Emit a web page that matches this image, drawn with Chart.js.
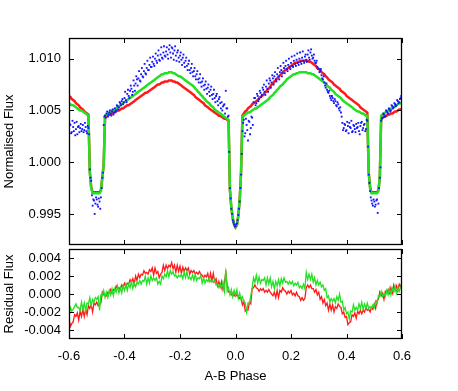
<!DOCTYPE html>
<html>
<head>
<meta charset="utf-8">
<script src="https://cdn.jsdelivr.net/npm/chart.js@4.4.1/dist/chart.umd.min.js"></script>
<style>
  html, body { margin: 0; padding: 0; background: #fff; }
  #wrap { position: relative; width: 458px; height: 391px; }
  canvas { position: absolute; left: 0; }
  #fluxChart { top: 0; }
  #residChart { top: 247px; }
</style>
</head>
<body>
<div id="wrap">
  <canvas id="fluxChart" width="458" height="247"></canvas>
  <canvas id="residChart" width="458" height="144"></canvas>
</div>
<script>
// phase grid: -0.6 .. 0.6 in steps of 0.005 (241 samples)
var phase = [];
for (var i = 0; i <= 240; i++) phase.push(Math.round((-0.6 + i * 0.005) * 10000) / 10000);
// second set of observations, half a step later (240 samples)
var phase2 = [];
for (var j = 0; j < 240; j++) phase2.push(Math.round((-0.5975 + j * 0.005) * 10000) / 10000);

var xTicks = [-0.6, -0.4, -0.2, 0.0, 0.2, 0.4, 0.6];
var fluxTicks = [0.995, 1.000, 1.005, 1.010];
var residTicks = [-0.004, -0.002, 0.000, 0.002, 0.004];

// observed light curve (blue points), one row = 0.05 in phase
var obsFlux = [
  1.0031, 1.0036, 1.0029, 1.0034, 1.0038, 1.0032, 1.0027, 1.0035, 1.0033, 1.0030,
  1.0036, 1.0031, 1.0034, 1.0028, 1.0033, 0.9993, 0.9982, 0.9958, 0.9963, 0.9960,
  0.9964, 0.9957, 0.9962, 0.9966, 0.9985, 1.0036, 1.0045, 1.0047, 1.0044, 1.0048,
  1.0047, 1.0049, 1.0046, 1.0052, 1.0050, 1.0054, 1.0053, 1.0057, 1.0059, 1.0056,
  1.0062, 1.0060, 1.0066, 1.0064, 1.0069, 1.0071, 1.0068, 1.0074, 1.0076, 1.0080,
  1.0081, 1.0079, 1.0085, 1.0083, 1.0088, 1.0086, 1.0091, 1.0089, 1.0094, 1.0092,
  1.0097, 1.0095, 1.0100, 1.0098, 1.0103, 1.0099, 1.0104, 1.0101, 1.0106, 1.0103,
  1.0107, 1.0104, 1.0109, 1.0106, 1.0111, 1.0105, 1.0108, 1.0103, 1.0106, 1.0101,
  1.0103, 1.0099, 1.0101, 1.0096, 1.0098, 1.0093, 1.0095, 1.0089, 1.0091, 1.0087,
  1.0088, 1.0083, 1.0085, 1.0080, 1.0081, 1.0077, 1.0078, 1.0074, 1.0075, 1.0071,
  1.0072, 1.0068, 1.0070, 1.0065, 1.0066, 1.0062, 1.0064, 1.0059, 1.0061, 1.0057,
  1.0058, 1.0054, 1.0056, 1.0069, 1.0052, 1.0045, 0.9975, 0.9955, 0.9944, 0.9940,
  0.9938, 0.9941, 0.9949, 0.9962, 0.9988, 1.0030, 1.0041, 1.0028, 1.0036, 1.0021,
  1.0039, 1.0033, 1.0043, 1.0058, 1.0062, 1.0057, 1.0064, 1.0061, 1.0067, 1.0065,
  1.0070, 1.0068, 1.0073, 1.0071, 1.0076, 1.0079, 1.0077, 1.0081, 1.0083, 1.0080,
  1.0085, 1.0083, 1.0087, 1.0089, 1.0086, 1.0091, 1.0093, 1.0090, 1.0094, 1.0092,
  1.0096, 1.0093, 1.0098, 1.0095, 1.0099, 1.0096, 1.0100, 1.0097, 1.0101, 1.0098,
  1.0102, 1.0099, 1.0104, 1.0101, 1.0106, 1.0103, 1.0101, 1.0098, 1.0096, 1.0092,
  1.0090, 1.0088, 1.0084, 1.0080, 1.0077, 1.0072, 1.0070, 1.0067, 1.0064, 1.0060,
  1.0062, 1.0057, 1.0059, 1.0054, 1.0056, 1.0050, 1.0048, 1.0038, 1.0033, 1.0036,
  1.0031, 1.0035, 1.0038, 1.0033, 1.0029, 1.0036, 1.0032, 1.0037, 1.0034, 1.0030,
  1.0035, 1.0039, 1.0033, 1.0037, 1.0032, 1.0040, 0.9988, 0.9972, 0.9963, 0.9958,
  0.9962, 0.9959, 0.9964, 0.9960, 0.9985, 1.0040, 1.0043, 1.0046, 1.0044, 1.0049,
  1.0047, 1.0051, 1.0050, 1.0054, 1.0053, 1.0056, 1.0055, 1.0059, 1.0058, 1.0062,
  1.0063
];

// observed light curve, in-between samples (phase2)
var obsFlux2 = [
  1.0037, 1.0028, 1.0040, 1.0030, 1.0026, 1.0039, 1.0034, 1.0029, 1.0037, 1.0032,
  1.0029, 1.0038, 1.0030, 1.0035, 1.0027, 0.9985, 0.9968, 0.9964, 0.9950, 0.9966,
  0.9959, 0.9965, 0.9955, 0.9975, 0.9990, 1.0044, 1.0043, 1.0049, 1.0046, 1.0050,
  1.0045, 1.0051, 1.0048, 1.0049, 1.0055, 1.0051, 1.0058, 1.0055, 1.0061, 1.0058,
  1.0068, 1.0058, 1.0070, 1.0062, 1.0074, 1.0065, 1.0079, 1.0069, 1.0083, 1.0074,
  1.0088, 1.0078, 1.0091, 1.0082, 1.0095, 1.0085, 1.0098, 1.0089, 1.0101, 1.0092,
  1.0102, 1.0093, 1.0105, 1.0096, 1.0108, 1.0098, 1.0111, 1.0100, 1.0112, 1.0102,
  1.0111, 1.0100, 1.0113, 1.0101, 1.0110, 1.0099, 1.0112, 1.0098, 1.0108, 1.0097,
  1.0106, 1.0094, 1.0104, 1.0092, 1.0101, 1.0089, 1.0098, 1.0086, 1.0095, 1.0083,
  1.0091, 1.0080, 1.0088, 1.0077, 1.0085, 1.0073, 1.0081, 1.0070, 1.0078, 1.0066,
  1.0075, 1.0064, 1.0073, 1.0061, 1.0070, 1.0058, 1.0066, 1.0055, 1.0063, 1.0052,
  1.0050, 1.0055, 1.0047, 1.0052, 1.0044, 1.0010, 0.9965, 0.9950, 0.9942, 0.9938,
  0.9940, 0.9944, 0.9955, 0.9975, 1.0008, 1.0038, 1.0025, 1.0042, 1.0031, 1.0040,
  1.0027, 1.0044, 1.0036, 1.0062, 1.0055, 1.0066, 1.0059, 1.0069, 1.0063, 1.0072,
  1.0075, 1.0065, 1.0079, 1.0068, 1.0081, 1.0072, 1.0084, 1.0075, 1.0087, 1.0078,
  1.0091, 1.0080, 1.0093, 1.0083, 1.0096, 1.0086, 1.0098, 1.0088, 1.0100, 1.0090,
  1.0102, 1.0092, 1.0103, 1.0093, 1.0105, 1.0094, 1.0106, 1.0095, 1.0107, 1.0096,
  1.0104, 1.0097, 1.0108, 1.0099, 1.0109, 1.0100, 1.0104, 1.0096, 1.0098, 1.0090,
  1.0087, 1.0090, 1.0081, 1.0083, 1.0074, 1.0076, 1.0068, 1.0069, 1.0062, 1.0064,
  1.0059, 1.0061, 1.0055, 1.0058, 1.0052, 1.0053, 1.0044, 1.0031, 1.0037, 1.0030,
  1.0039, 1.0028, 1.0034, 1.0040, 1.0030, 1.0035, 1.0029, 1.0033, 1.0038, 1.0027,
  1.0038, 1.0031, 1.0036, 1.0030, 1.0041, 1.0015, 0.9980, 0.9966, 0.9960, 0.9964,
  0.9957, 0.9963, 0.9951, 0.9975, 0.9995, 1.0042, 1.0047, 1.0044, 1.0050, 1.0048,
  1.0052, 1.0049, 1.0055, 1.0052, 1.0057, 1.0054, 1.0060, 1.0057, 1.0061, 1.0064
];

// red model
var redModel = [
  1.0064, 1.0063, 1.0061, 1.0060, 1.0059, 1.0057, 1.0056, 1.0055, 1.0053, 1.0052,
  1.0051, 1.0049, 1.0048, 1.0047, 1.0046, 0.9991, 0.9976, 0.9971, 0.9971, 0.9971,
  0.9971, 0.9971, 0.9971, 0.9973, 0.9985, 0.9998, 1.0044, 1.0045, 1.0045, 1.0046,
  1.0046, 1.0047, 1.0048, 1.0048, 1.0049, 1.0050, 1.0050, 1.0051, 1.0052, 1.0052,
  1.0053, 1.0054, 1.0055, 1.0055, 1.0056, 1.0057, 1.0058, 1.0059, 1.0060, 1.0061,
  1.0062, 1.0063, 1.0064, 1.0065, 1.0066, 1.0067, 1.0067, 1.0068, 1.0069, 1.0070,
  1.0071, 1.0072, 1.0073, 1.0074, 1.0075, 1.0075, 1.0076, 1.0077, 1.0077, 1.0078,
  1.0078, 1.0078, 1.0079, 1.0079, 1.0079, 1.0078, 1.0078, 1.0077, 1.0077, 1.0076,
  1.0075, 1.0074, 1.0073, 1.0072, 1.0071, 1.0070, 1.0069, 1.0068, 1.0067, 1.0066,
  1.0065, 1.0063, 1.0062, 1.0061, 1.0060, 1.0059, 1.0058, 1.0057, 1.0055, 1.0054,
  1.0053, 1.0052, 1.0051, 1.0050, 1.0049, 1.0048, 1.0047, 1.0046, 1.0045, 1.0045,
  1.0044, 1.0043, 1.0042, 1.0042, 1.0041, 1.0040, 0.9973, 0.9956, 0.9946, 0.9940,
  0.9937, 0.9939, 0.9948, 0.9963, 0.9990, 1.0045, 1.0047, 1.0049, 1.0050, 1.0052,
  1.0053, 1.0054, 1.0056, 1.0057, 1.0058, 1.0059, 1.0060, 1.0062, 1.0063, 1.0064,
  1.0065, 1.0067, 1.0068, 1.0070, 1.0071, 1.0073, 1.0075, 1.0076, 1.0078, 1.0079,
  1.0081, 1.0082, 1.0084, 1.0085, 1.0087, 1.0088, 1.0089, 1.0090, 1.0091, 1.0092,
  1.0093, 1.0094, 1.0095, 1.0096, 1.0096, 1.0097, 1.0097, 1.0098, 1.0098, 1.0098,
  1.0098, 1.0098, 1.0098, 1.0097, 1.0097, 1.0096, 1.0095, 1.0094, 1.0093, 1.0091,
  1.0090, 1.0089, 1.0087, 1.0086, 1.0085, 1.0083, 1.0082, 1.0080, 1.0079, 1.0078,
  1.0077, 1.0075, 1.0074, 1.0073, 1.0072, 1.0071, 1.0069, 1.0068, 1.0067, 1.0066,
  1.0064, 1.0063, 1.0062, 1.0061, 1.0060, 1.0059, 1.0058, 1.0057, 1.0056, 1.0055,
  1.0053, 1.0052, 1.0051, 1.0050, 1.0049, 1.0048, 0.9990, 0.9976, 0.9971, 0.9971,
  0.9971, 0.9971, 0.9971, 0.9973, 0.9985, 1.0043, 1.0043, 1.0044, 1.0045, 1.0045,
  1.0046, 1.0046, 1.0047, 1.0047, 1.0048, 1.0049, 1.0049, 1.0050, 1.0051, 1.0051,
  1.0052
];

// green model
var greenModel = [
  1.0057, 1.0056, 1.0055, 1.0055, 1.0054, 1.0053, 1.0052, 1.0051, 1.0050, 1.0050,
  1.0049, 1.0048, 1.0047, 1.0046, 1.0045, 0.9990, 0.9975, 0.9970, 0.9970, 0.9970,
  0.9970, 0.9970, 0.9970, 0.9972, 0.9985, 0.9998, 1.0045, 1.0046, 1.0047, 1.0048,
  1.0049, 1.0050, 1.0050, 1.0051, 1.0052, 1.0053, 1.0054, 1.0055, 1.0056, 1.0057,
  1.0058, 1.0059, 1.0060, 1.0061, 1.0062, 1.0063, 1.0064, 1.0065, 1.0066, 1.0067,
  1.0068, 1.0069, 1.0070, 1.0071, 1.0072, 1.0073, 1.0074, 1.0075, 1.0076, 1.0077,
  1.0078, 1.0079, 1.0080, 1.0081, 1.0082, 1.0083, 1.0084, 1.0085, 1.0085, 1.0086,
  1.0086, 1.0086, 1.0087, 1.0087, 1.0087, 1.0086, 1.0086, 1.0085, 1.0084, 1.0083,
  1.0083, 1.0082, 1.0081, 1.0080, 1.0079, 1.0078, 1.0077, 1.0076, 1.0075, 1.0074,
  1.0073, 1.0071, 1.0070, 1.0068, 1.0067, 1.0065, 1.0064, 1.0062, 1.0061, 1.0059,
  1.0058, 1.0057, 1.0055, 1.0054, 1.0053, 1.0051, 1.0050, 1.0049, 1.0048, 1.0047,
  1.0046, 1.0045, 1.0044, 1.0043, 1.0042, 1.0041, 0.9973, 0.9956, 0.9946, 0.9940,
  0.9937, 0.9939, 0.9948, 0.9963, 0.9990, 1.0044, 1.0045, 1.0046, 1.0047, 1.0048,
  1.0048, 1.0049, 1.0050, 1.0051, 1.0052, 1.0052, 1.0053, 1.0054, 1.0055, 1.0056,
  1.0057, 1.0058, 1.0059, 1.0060, 1.0061, 1.0063, 1.0064, 1.0065, 1.0067, 1.0068,
  1.0070, 1.0071, 1.0073, 1.0074, 1.0075, 1.0077, 1.0078, 1.0080, 1.0081, 1.0082,
  1.0083, 1.0084, 1.0085, 1.0085, 1.0086, 1.0086, 1.0087, 1.0087, 1.0087, 1.0087,
  1.0087, 1.0087, 1.0086, 1.0086, 1.0086, 1.0085, 1.0085, 1.0084, 1.0083, 1.0082,
  1.0081, 1.0080, 1.0079, 1.0078, 1.0077, 1.0076, 1.0074, 1.0073, 1.0072, 1.0070,
  1.0069, 1.0068, 1.0066, 1.0065, 1.0064, 1.0063, 1.0062, 1.0060, 1.0059, 1.0058,
  1.0057, 1.0056, 1.0055, 1.0054, 1.0053, 1.0052, 1.0051, 1.0050, 1.0049, 1.0049,
  1.0048, 1.0047, 1.0047, 1.0046, 1.0045, 1.0045, 0.9990, 0.9975, 0.9970, 0.9970,
  0.9970, 0.9970, 0.9970, 0.9972, 0.9985, 1.0045, 1.0046, 1.0047, 1.0048, 1.0049,
  1.0050, 1.0051, 1.0052, 1.0052, 1.0053, 1.0054, 1.0055, 1.0056, 1.0057, 1.0057,
  1.0058
];

// residuals against the red model
var redResid = [
  -27e-4, -36e-4, -33e-4, -31e-4, -23e-4, -25e-4, -21e-4, -29e-4, -19e-4, -25e-4,
  -17e-4, -25e-4, -17e-4, -23e-4, -13e-4, -16e-4, -12e-4, -20e-4, -10e-4, -12e-4,
  -9e-4, -13e-4, -12e-4, -10e-4, 2e-4, -1e-4, 0e-4, -2e-4, 2e-4, 1e-4,
  5e-4, 1e-4, 5e-4, 4e-4, 9e-4, 6e-4, 7e-4, 5e-4, 10e-4, 8e-4,
  12e-4, 8e-4, 12e-4, 11e-4, 16e-4, 13e-4, 17e-4, 11e-4, 20e-4, 15e-4,
  22e-4, 18e-4, 22e-4, 21e-4, 26e-4, 23e-4, 24e-4, 22e-4, 27e-4, 25e-4,
  29e-4, 21e-4, 29e-4, 23e-4, 25e-4, 18e-4, 22e-4, 24e-4, 32e-4, 26e-4,
  32e-4, 28e-4, 32e-4, 30e-4, 35e-4, 28e-4, 32e-4, 24e-4, 32e-4, 25e-4,
  31e-4, 23e-4, 30e-4, 25e-4, 29e-4, 26e-4, 29e-4, 22e-4, 26e-4, 24e-4,
  26e-4, 22e-4, 24e-4, 22e-4, 25e-4, 22e-4, 21e-4, 18e-4, 21e-4, 19e-4,
  23e-4, 15e-4, 23e-4, 15e-4, 23e-4, 14e-4, 17e-4, 9e-4, 14e-4, 8e-4,
  14e-4, 5e-4, 12e-4, 24e-4, 9e-4, 2e-4, 2e-4, -1e-4, 1e-4, -2e-4,
  1e-4, -2e-4, -2e-4, -5e-4, -4e-4, -12e-4, -8e-4, -19e-4, -17e-4, -18e-4,
  -9e-4, -11e-4, 6e-4, 7e-4, 10e-4, 7e-4, 6e-4, 3e-4, 6e-4, 4e-4,
  6e-4, 2e-4, 4e-4, 2e-4, 5e-4, 2e-4, 0e-4, -2e-4, 2e-4, -4e-4,
  4e-4, -4e-4, 4e-4, 2e-4, 7e-4, 4e-4, 3e-4, 0e-4, 3e-4, 1e-4,
  4e-4, -1e-4, 1e-4, -2e-4, 2e-4, -2e-4, -3e-4, -7e-4, -4e-4, -7e-4,
  -5e-4, 7e-4, 10e-4, 7e-4, 10e-4, 6e-4, 6e-4, 2e-4, 5e-4, -1e-4,
  2e-4, -6e-4, -3e-4, -10e-4, -6e-4, -13e-4, -10e-4, -18e-4, -11e-4, -18e-4,
  -12e-4, -20e-4, -14e-4, -16e-4, -11e-4, -14e-4, -15e-4, -22e-4, -20e-4, -26e-4,
  -25e-4, -34e-4, -32e-4, -31e-4, -23e-4, -25e-4, -21e-4, -27e-4, -19e-4, -22e-4,
  -18e-4, -22e-4, -18e-4, -20e-4, -15e-4, -18e-4, -17e-4, -20e-4, -15e-4, -17e-4,
  -11e-4, -16e-4, -7e-4, -6e-4, 2e-4, -2e-4, 1e-4, -6e-4, 3e-4, 1e-4,
  5e-4, 1e-4, 7e-4, 1e-4, 10e-4, 4e-4, 9e-4, 3e-4, 11e-4, 8e-4,
  13e-4
];

// residuals against the green model
var greenResid = [
  -25e-4, -15e-4, -19e-4, -17e-4, -14e-4, -11e-4, -15e-4, -15e-4, -18e-4, -9e-4,
  -17e-4, -10e-4, -19e-4, -10e-4, -11e-4, -4e-4, -13e-4, -6e-4, -9e-4, -4e-4,
  -6e-4, -3e-4, -18e-4, -1e-4, -2e-4, 4e-4, -4e-4, 2e-4, -4e-4, 4e-4,
  -1e-4, 6e-4, -2e-4, 6e-4, 2e-4, 9e-4, 1e-4, 7e-4, 1e-4, 9e-4,
  4e-4, 11e-4, 4e-4, 11e-4, 7e-4, 14e-4, 6e-4, 12e-4, 8e-4, 13e-4,
  11e-4, 15e-4, 11e-4, 15e-4, 14e-4, 20e-4, 11e-4, 18e-4, 12e-4, 20e-4,
  15e-4, 18e-4, 15e-4, 18e-4, 11e-4, 14e-4, 11e-4, 20e-4, 17e-4, 22e-4,
  19e-4, 26e-4, 19e-4, 26e-4, 22e-4, 25e-4, 20e-4, 21e-4, 18e-4, 21e-4,
  19e-4, 22e-4, 17e-4, 24e-4, 18e-4, 25e-4, 17e-4, 19e-4, 16e-4, 21e-4,
  15e-4, 22e-4, 15e-4, 18e-4, 17e-4, 21e-4, 12e-4, 18e-4, 12e-4, 16e-4,
  14e-4, 18e-4, 14e-4, 15e-4, 13e-4, 16e-4, 10e-4, 11e-4, 7e-4, 11e-4,
  6e-4, 13e-4, 3e-4, 27e-4, 3e-4, 7e-4, -1e-4, 5e-4, -3e-4, 4e-4,
  -2e-4, 5e-4, -5e-4, 1e-4, -6e-4, -3e-4, -9e-4, -10e-4, -20e-4, -10e-4,
  -11e-4, -2e-4, 7e-4, 18e-4, 13e-4, 21e-4, 12e-4, 19e-4, 12e-4, 16e-4,
  15e-4, 18e-4, 10e-4, 18e-4, 11e-4, 18e-4, 8e-4, 14e-4, 6e-4, 14e-4,
  9e-4, 16e-4, 9e-4, 17e-4, 12e-4, 18e-4, 13e-4, 14e-4, 11e-4, 14e-4,
  11e-4, 14e-4, 9e-4, 12e-4, 10e-4, 13e-4, 7e-4, 9e-4, 6e-4, 11e-4,
  6e-4, 24e-4, 16e-4, 22e-4, 16e-4, 22e-4, 13e-4, 18e-4, 10e-4, 15e-4,
  10e-4, 13e-4, 8e-4, 10e-4, 4e-4, 6e-4, -4e-4, -2e-4, -9e-4, -5e-4,
  -8e-4, -5e-4, -10e-4, -3e-4, -7e-4, 0e-4, -9e-4, -8e-4, -18e-4, -15e-4,
  -22e-4, -20e-4, -28e-4, -19e-4, -20e-4, -12e-4, -18e-4, -15e-4, -18e-4, -11e-4,
  -16e-4, -9e-4, -17e-4, -11e-4, -16e-4, -10e-4, -16e-4, -14e-4, -16e-4, -12e-4,
  -15e-4, -8e-4, -11e-4, -2e-4, -3e-4, 3e-4, -3e-4, 0e-4, -3e-4, 4e-4,
  -1e-4, 6e-4, -1e-4, 6e-4, 2e-4, 9e-4, 1e-4, 7e-4, 3e-4, 8e-4,
  6e-4
];

function pts(xs, values) {
  return xs.map(function(p, i) { return { x: p, y: values[i] }; });
}

var FONT = { family: "'Liberation Sans', Arial, sans-serif", size: 13 };
var INK = '#000';

// gnuplot-like frame with inward ticks on all four sides
var framePlugin = {
  id: 'frame',
  afterDraw: function(chart) {
    var ctx = chart.ctx, a = chart.chartArea;
    var xs = chart.scales.x, ys = chart.scales.y;
    var len = 5;
    ctx.save();
    ctx.strokeStyle = INK;
    ctx.lineWidth = 1;
    ctx.beginPath();
    xs.ticks.forEach(function(t) {
      var px = Math.round(xs.getPixelForValue(t.value)) + 0.5;
      ctx.moveTo(px, a.bottom); ctx.lineTo(px, a.bottom - len);
      ctx.moveTo(px, a.top); ctx.lineTo(px, a.top + len);
    });
    ys.ticks.forEach(function(t) {
      var py = Math.round(ys.getPixelForValue(t.value)) + 0.5;
      ctx.moveTo(a.left, py); ctx.lineTo(a.left + len, py);
      ctx.moveTo(a.right, py); ctx.lineTo(a.right - len, py);
    });
    ctx.stroke();
    ctx.lineWidth = 1.3;
    ctx.strokeRect(Math.round(a.left) + 0.5, Math.round(a.top) + 0.5,
                   Math.round(a.width) - 1, Math.round(a.height) - 1);
    ctx.restore();
  }
};

function xAxis(showLabels, axisHeight) {
  return {
    type: 'linear', min: -0.6, max: 0.6,
    afterBuildTicks: function(s) { s.ticks = xTicks.map(function(v) { return { value: v }; }); },
    grid: { display: false, drawTicks: false },
    border: { display: false },
    ticks: {
      display: showLabels, autoSkip: false, maxRotation: 0, padding: 10,
      font: FONT, color: INK,
      callback: function(v) { return Number(v).toFixed(1); }
    },
    title: { display: showLabels, text: 'A-B Phase', font: FONT, color: INK, padding: { top: 4, bottom: 0 } },
    afterFit: function(s) { s.height = axisHeight; s.paddingLeft = 0; s.paddingRight = 0; }
  };
}

function yAxis(min, max, tickVals, titleText) {
  return {
    min: min, max: max,
    afterBuildTicks: function(s) { s.ticks = tickVals.map(function(v) { return { value: v }; }); },
    grid: { display: false, drawTicks: false },
    border: { display: false },
    ticks: {
      autoSkip: false, padding: 8, font: FONT, color: INK,
      callback: function(v) { return Number(v).toFixed(3); }
    },
    title: { display: true, text: titleText, font: FONT, color: INK, padding: { top: 2, bottom: 0 } },
    // fixed axis width; drop the label overhang padding so the plot box keeps its size
    afterFit: function(s) { s.width = 69; s.paddingTop = 0; s.paddingBottom = 0; }
  };
}

var BLUE = '#1414ff', GREEN = '#22e022', RED = '#ff1a1a';

new Chart(document.getElementById('fluxChart'), {
  type: 'line',
  data: {
    datasets: [
      { label: 'observed', data: pts(phase, obsFlux), showLine: false, pointRadius: 1.3, pointStyle: 'rect',
        pointBackgroundColor: BLUE, pointBorderWidth: 0 },
      { label: 'observed (2)', data: pts(phase2, obsFlux2), showLine: false, pointRadius: 1.3, pointStyle: 'rect',
        pointBackgroundColor: BLUE, pointBorderWidth: 0 },
      { label: 'green model', data: pts(phase, greenModel), borderColor: GREEN, borderWidth: 2.5, pointRadius: 0, tension: 0 },
      { label: 'red model', data: pts(phase, redModel), borderColor: RED, borderWidth: 2.5, pointRadius: 0, tension: 0 }
    ]
  },
  options: {
    responsive: false, animation: false, devicePixelRatio: 1,
    layout: { autoPadding: false, padding: { left: 0, right: 56, top: 38, bottom: 2 } },
    plugins: { legend: { display: false }, tooltip: { enabled: false } },
    scales: {
      x: xAxis(false, 0),
      y: yAxis(0.992, 1.012, fluxTicks, 'Normalised Flux')
    }
  },
  plugins: [framePlugin]
});

new Chart(document.getElementById('residChart'), {
  type: 'line',
  data: {
    datasets: [
      { label: 'green residual', data: pts(phase, greenResid), borderColor: GREEN, borderWidth: 1.3, pointRadius: 0, tension: 0 },
      { label: 'red residual', data: pts(phase, redResid), borderColor: RED, borderWidth: 1.3, pointRadius: 0, tension: 0 }
    ]
  },
  options: {
    responsive: false, animation: false, devicePixelRatio: 1,
    layout: { autoPadding: false, padding: { left: 0, right: 56, top: 2, bottom: 7 } },
    plugins: { legend: { display: false }, tooltip: { enabled: false } },
    scales: {
      x: xAxis(true, 45),
      y: yAxis(-0.005, 0.005, residTicks, 'Residual Flux')
    }
  },
  plugins: [framePlugin]
});
</script>
</body>
</html>
